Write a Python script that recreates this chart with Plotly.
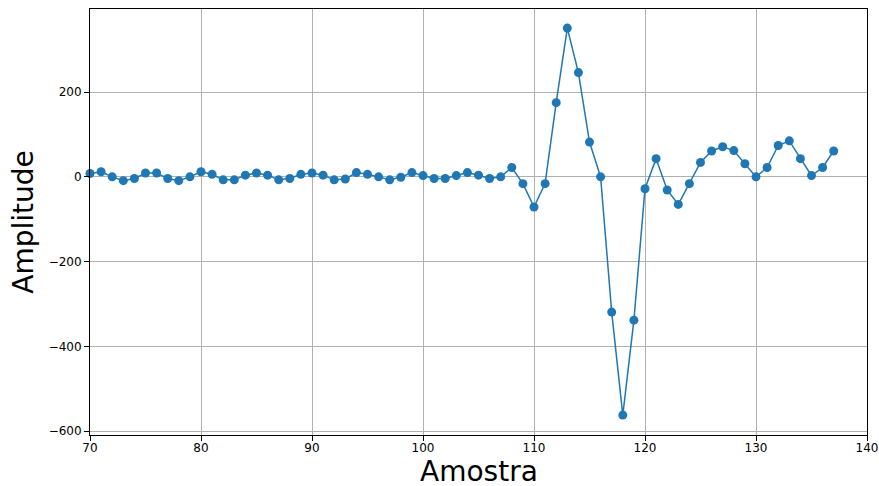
import plotly.graph_objects as go

amostra = list(range(70, 138))
amplitude = [
    8, 12, 0, -9, -4, 9, 9, -4, -9, 0,
    12, 6, -7, -7, 4, 9, 4, -7, -4, 6,
    9, 4, -7, -5, 10, 6, 0, -7, -1, 10,
    3, -4, -4, 3, 10, 4, -4, 0, 22, -16,
    -71, -16, 175, 351, 246, 82, 0, -319, -562, -338,
    -28, 43, -31, -65, -16, 34, 61, 71, 62, 31,
    0, 22, 74, 85, 43, 3, 22, 61,
]
x_ticks = [70, 80, 90, 100, 110, 120, 130, 140]
y_ticks = [-600, -400, -200, 0, 200]
x_title = "Amostra"
y_title = "Amplitude"

color = "#1f77b4"
fig = go.Figure(go.Scatter(
    x=amostra, y=amplitude, mode="lines+markers",
    line=dict(color=color, width=1.5),
    marker=dict(color=color, size=9),
    cliponaxis=False,
))

axis_common = dict(
    showline=True, mirror=True, linecolor="black", linewidth=1,
    ticks="outside", ticklen=5, tickwidth=1, tickcolor="black",
    showgrid=True, gridcolor="#b0b0b0", gridwidth=1, zeroline=False,
    tickfont=dict(family="DejaVu Sans", size=12, color="black"),
    automargin=False,
)

fig.update_layout(
    width=879, height=486,
    margin=dict(l=90, r=12, t=9, b=51),
    plot_bgcolor="white", paper_bgcolor="white",
    showlegend=False,
    xaxis=dict(
        range=[70, 140], tickvals=x_ticks, ticktext=[str(v) for v in x_ticks],
        ticklabelstandoff=-3,
        **axis_common,
    ),
    yaxis=dict(
        range=[-609, 396], tickvals=y_ticks,
        title=dict(text=y_title, font=dict(family="DejaVu Sans", size=28, color="black"), standoff=6),
        **axis_common,
    ),
    annotations=[dict(
        text=x_title, xref="paper", yref="paper", x=0.5, y=0,
        xanchor="center", yanchor="middle", yshift=-36, showarrow=False,
        font=dict(family="DejaVu Sans", size=28, color="black"),
    )],
)

fig.write_html("out.html", config={"displayModeBar": False},
               post_script="document.body.style.margin='0';")
